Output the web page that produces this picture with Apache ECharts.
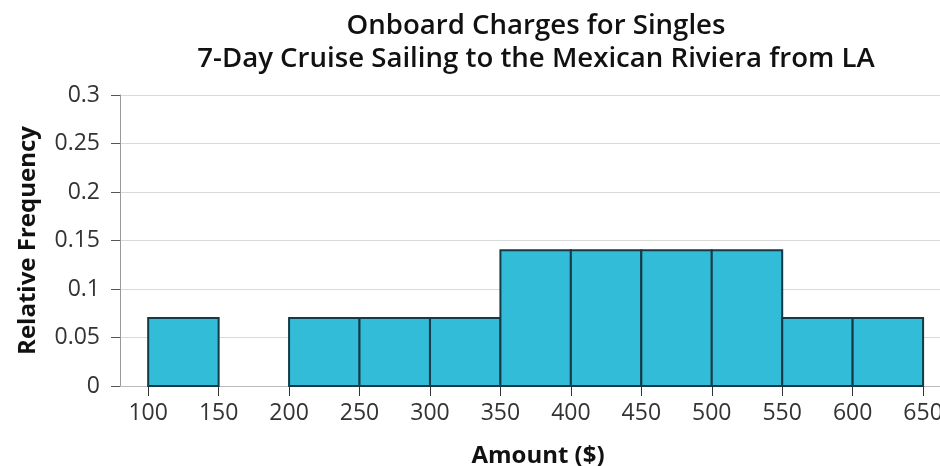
<!DOCTYPE html>
<html>
<head>
<meta charset="utf-8">
<script src="https://cdn.jsdelivr.net/npm/echarts@6/dist/echarts.min.js"></script>
<style>
  html, body { margin: 0; padding: 0; background: #fff; overflow: hidden; }
  #chart { width: 940px; height: 466px; }
</style>
</head>
<body>
<div id="chart"></div>
<script>
// Histogram of onboard charges (bin edges in dollars, relative frequency per bin)
var binStarts = [100, 150, 200, 250, 300, 350, 400, 450, 500, 550, 600];
var binEnds   = [150, 200, 250, 300, 350, 400, 450, 500, 550, 600, 650];
var frequencies = [0.07, 0, 0.07, 0.07, 0.07, 0.14, 0.14, 0.14, 0.14, 0.07, 0.07];
var xTicks = [100, 150, 200, 250, 300, 350, 400, 450, 500, 550, 600, 650];

var seriesData = binStarts.map(function (s, i) {
  return [s, binEnds[i], frequencies[i]];
});

var fontFamily = '"Open Sans", "Noto Sans", sans-serif';

var chart = echarts.init(document.getElementById('chart'), null, { renderer: 'canvas', width: 940, height: 466 });
chart.setOption({
  animation: false,
  backgroundColor: '#ffffff',
  title: {
    text: 'Onboard Charges for Singles\n7-Day Cruise Sailing to the Mexican Riviera from LA',
    left: 531,
    top: 5,
    textAlign: 'center',
    textStyle: {
      fontFamily: fontFamily,
      fontWeight: 600,
      fontSize: 27.6,
      lineHeight: 33,
      color: '#111'
    }
  },
  // fixed plot box; the "650" label is allowed to run off the right edge
  grid: { left: 120, width: 820, top: 95, bottom: 80, containLabel: false, outerBoundsMode: 'none' },
  xAxis: {
    type: 'value',
    min: 80,
    max: 662,
    name: 'Amount ($)',
    nameLocation: 'middle',
    nameGap: 58,
    nameTextStyle: {
      fontFamily: fontFamily, fontWeight: 'bold', fontSize: 24, color: '#111',
      padding: [0, 0, 0, 16]
    },
    axisLine: { show: true, lineStyle: { color: '#bbb', width: 1 } },
    axisTick: {
      show: true, customValues: xTicks, length: 10,
      lineStyle: { color: '#333', width: 1 }
    },
    axisLabel: {
      customValues: xTicks, margin: 16,
      fontFamily: fontFamily, fontSize: 23, color: '#333'
    },
    splitLine: { show: false }
  },
  yAxis: {
    type: 'value',
    min: 0,
    max: 0.3,
    interval: 0.05,
    name: 'Relative Frequency',
    nameLocation: 'middle',
    nameGap: 80,
    nameTextStyle: { fontFamily: fontFamily, fontWeight: 'bold', fontSize: 24, color: '#111' },
    axisLine: { show: true, lineStyle: { color: '#999', width: 1 } },
    axisTick: { show: true, length: 9, lineStyle: { color: '#555', width: 1 } },
    axisLabel: {
      margin: 20,
      fontFamily: fontFamily, fontSize: 23, color: '#333',
      formatter: function (v) { return String(Math.round(v * 100) / 100); }
    },
    splitLine: { show: true, lineStyle: { color: '#d9d9d9', width: 1 } }
  },
  series: [{
    type: 'custom',
    data: seriesData,
    encode: { x: [0, 1], y: 2 },
    renderItem: function (params, api) {
      var v = api.value(2);
      if (!v) return null;
      var p0 = api.coord([api.value(0), v]);
      var p1 = api.coord([api.value(1), 0]);
      return {
        type: 'rect',
        shape: { x: p0[0], y: p0[1], width: p1[0] - p0[0], height: p1[1] - p0[1] },
        style: { fill: '#33bcd8', stroke: '#133a46', lineWidth: 2 }
      };
    }
  }]
});
</script>
</body>
</html>
